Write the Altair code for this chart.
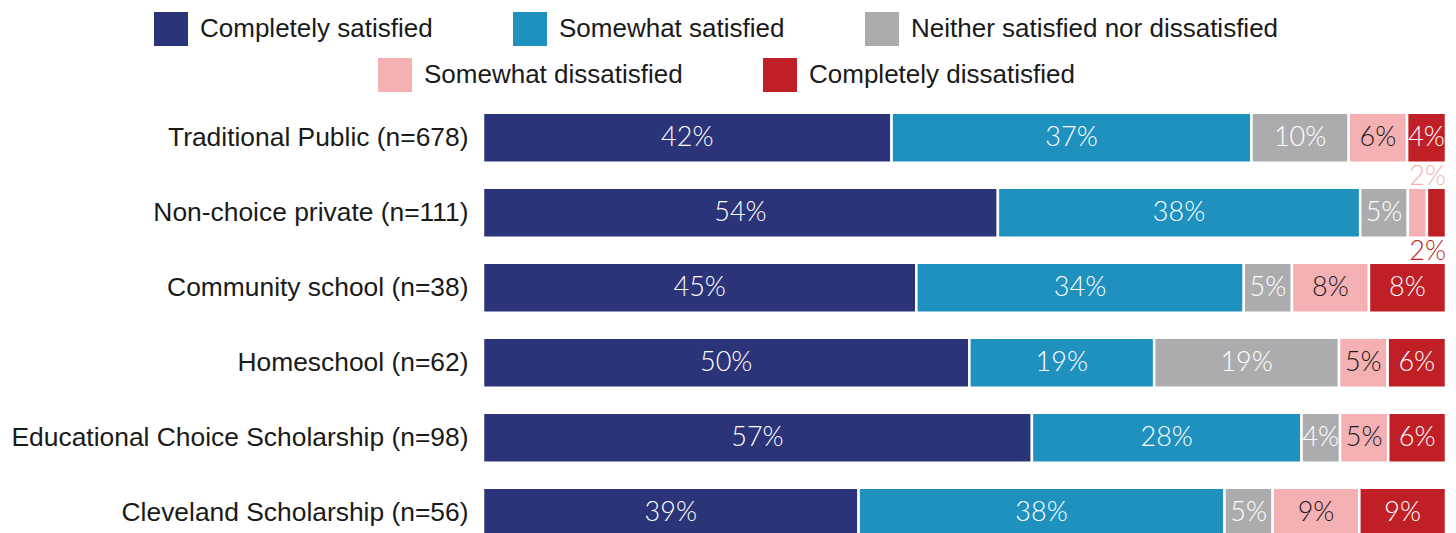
import altair as alt
import pandas as pd

schools = [
    "Traditional Public (n=678)",
    "Non-choice private (n=111)",
    "Community school (n=38)",
    "Homeschool (n=62)",
    "Educational Choice Scholarship (n=98)",
    "Cleveland Scholarship (n=56)",
]
categories = [
    "Completely satisfied",
    "Somewhat satisfied",
    "Neither satisfied nor dissatisfied",
    "Somewhat dissatisfied",
    "Completely dissatisfied",
]
colors = ["#2b3479", "#1f91bf", "#acacae", "#f5b0b3", "#c11f26"]

completely_satisfied = [42, 54, 45, 50, 57, 39]
somewhat_satisfied = [37, 38, 34, 19, 28, 38]
neither = [10, 5, 5, 19, 4, 5]
somewhat_dissatisfied = [6, 2, 8, 5, 5, 9]
completely_dissatisfied = [4, 2, 8, 6, 6, 9]

series = [completely_satisfied, somewhat_satisfied, neither,
          somewhat_dissatisfied, completely_dissatisfied]

rows = []
for ci, (cat, vals) in enumerate(zip(categories, series)):
    for school, v in zip(schools, vals):
        rows.append({"school": school, "category": cat, "order": ci, "value": v})
df = pd.DataFrame(rows)

LABEL_FONT = "Liberation Sans"
VALUE_FONT = "Lato"

base = (
    alt.Chart(df)
    .transform_joinaggregate(total="sum(value)", groupby=["school"])
    .transform_calculate(share="datum.value / datum.total")
    .transform_stack(stack="share", as_=["x0", "x1"], groupby=["school"],
                     sort=[alt.SortField("order", order="ascending")])
    .transform_joinaggregate(rowend="max(x1)", groupby=["school"])
    .transform_calculate(mid="(datum.x0 + datum.x1) / 2", label="datum.value + '%'")
)

x_scale = alt.Scale(domain=[0, 1], nice=False, zero=True)
y_enc = alt.Y(
    "school:N",
    sort=schools,
    scale=alt.Scale(range=[12.75, 437.75], paddingInner=0.333, paddingOuter=0),
    axis=alt.Axis(title=None, domain=False, ticks=False, grid=False,
                  labelFontSize=26.4, labelFont=LABEL_FONT, labelColor="#1a1a1a",
                  labelPadding=15, labelLimit=0),
)


def legend(x, y):
    return alt.Legend(
        title=None, orient="none", legendX=x, legendY=y, direction="horizontal",
        columns=3, symbolType="square", symbolSize=1156, symbolStrokeWidth=0,
        symbolOpacity=1, labelFontSize=26, labelFont=LABEL_FONT,
        labelColor="#1a1a1a", labelOffset=12, columnPadding=80, labelLimit=0,
    )


bars_sat = base.transform_filter("datum.order <= 2").mark_bar(
    stroke="white", strokeWidth=2.5
).encode(
    x=alt.X("x0:Q", scale=x_scale, axis=None),
    x2="x1:Q",
    y=y_enc,
    color=alt.Color("category:N", sort=categories[:3],
                    scale=alt.Scale(domain=categories[:3], range=colors[:3]),
                    legend=legend(-329, -88)),
)

bars_dis = base.transform_filter("datum.order >= 3").mark_bar(
    stroke="white", strokeWidth=2.5
).encode(
    x=alt.X("x0:Q", scale=x_scale, axis=None),
    x2="x1:Q",
    y=y_enc,
    color=alt.Color("category:N", sort=categories[3:],
                    scale=alt.Scale(domain=categories[3:], range=colors[3:]),
                    legend=legend(-105, -42)),
)

text_in = base.transform_filter("datum.value >= 3").mark_text(
    font=VALUE_FONT, fontSize=27, fontWeight=300, baseline="middle", align="center"
).encode(
    x=alt.X("mid:Q", scale=x_scale, axis=None),
    y=y_enc,
    text="label:N",
    color=alt.condition("datum.order == 3", alt.value("#1a1a1a"), alt.value("white")),
)

text_above = base.transform_filter("datum.value < 3 && datum.order == 3").mark_text(
    font=VALUE_FONT, fontSize=27, fontWeight=300, baseline="middle", align="right",
    dy=-36, color=colors[3]
).encode(
    x=alt.X("rowend:Q", scale=x_scale, axis=None),
    y=y_enc,
    text="label:N",
)

text_below = base.transform_filter("datum.value < 3 && datum.order == 4").mark_text(
    font=VALUE_FONT, fontSize=27, fontWeight=300, baseline="middle", align="right",
    dy=39, color=colors[4]
).encode(
    x=alt.X("rowend:Q", scale=x_scale, axis=None),
    y=y_enc,
    text="label:N",
)

chart = (
    alt.layer(bars_sat, bars_dis, text_in, text_above, text_below)
    .resolve_scale(color="independent")
    .properties(
        width=963, height=433,
        padding={"left": 483, "top": 100, "right": 10, "bottom": 0},
        autosize=alt.AutoSizeParams(type="none"),
        view=alt.ViewBackground(stroke="white", strokeWidth=0, strokeOpacity=0),
    )
    .configure_view(stroke="white", strokeWidth=0, strokeOpacity=0)
    .configure_axis(grid=False, domain=False)
    .configure(background="white")
)

chart.save("out.html", embed_options={"renderer": "svg", "actions": False})
